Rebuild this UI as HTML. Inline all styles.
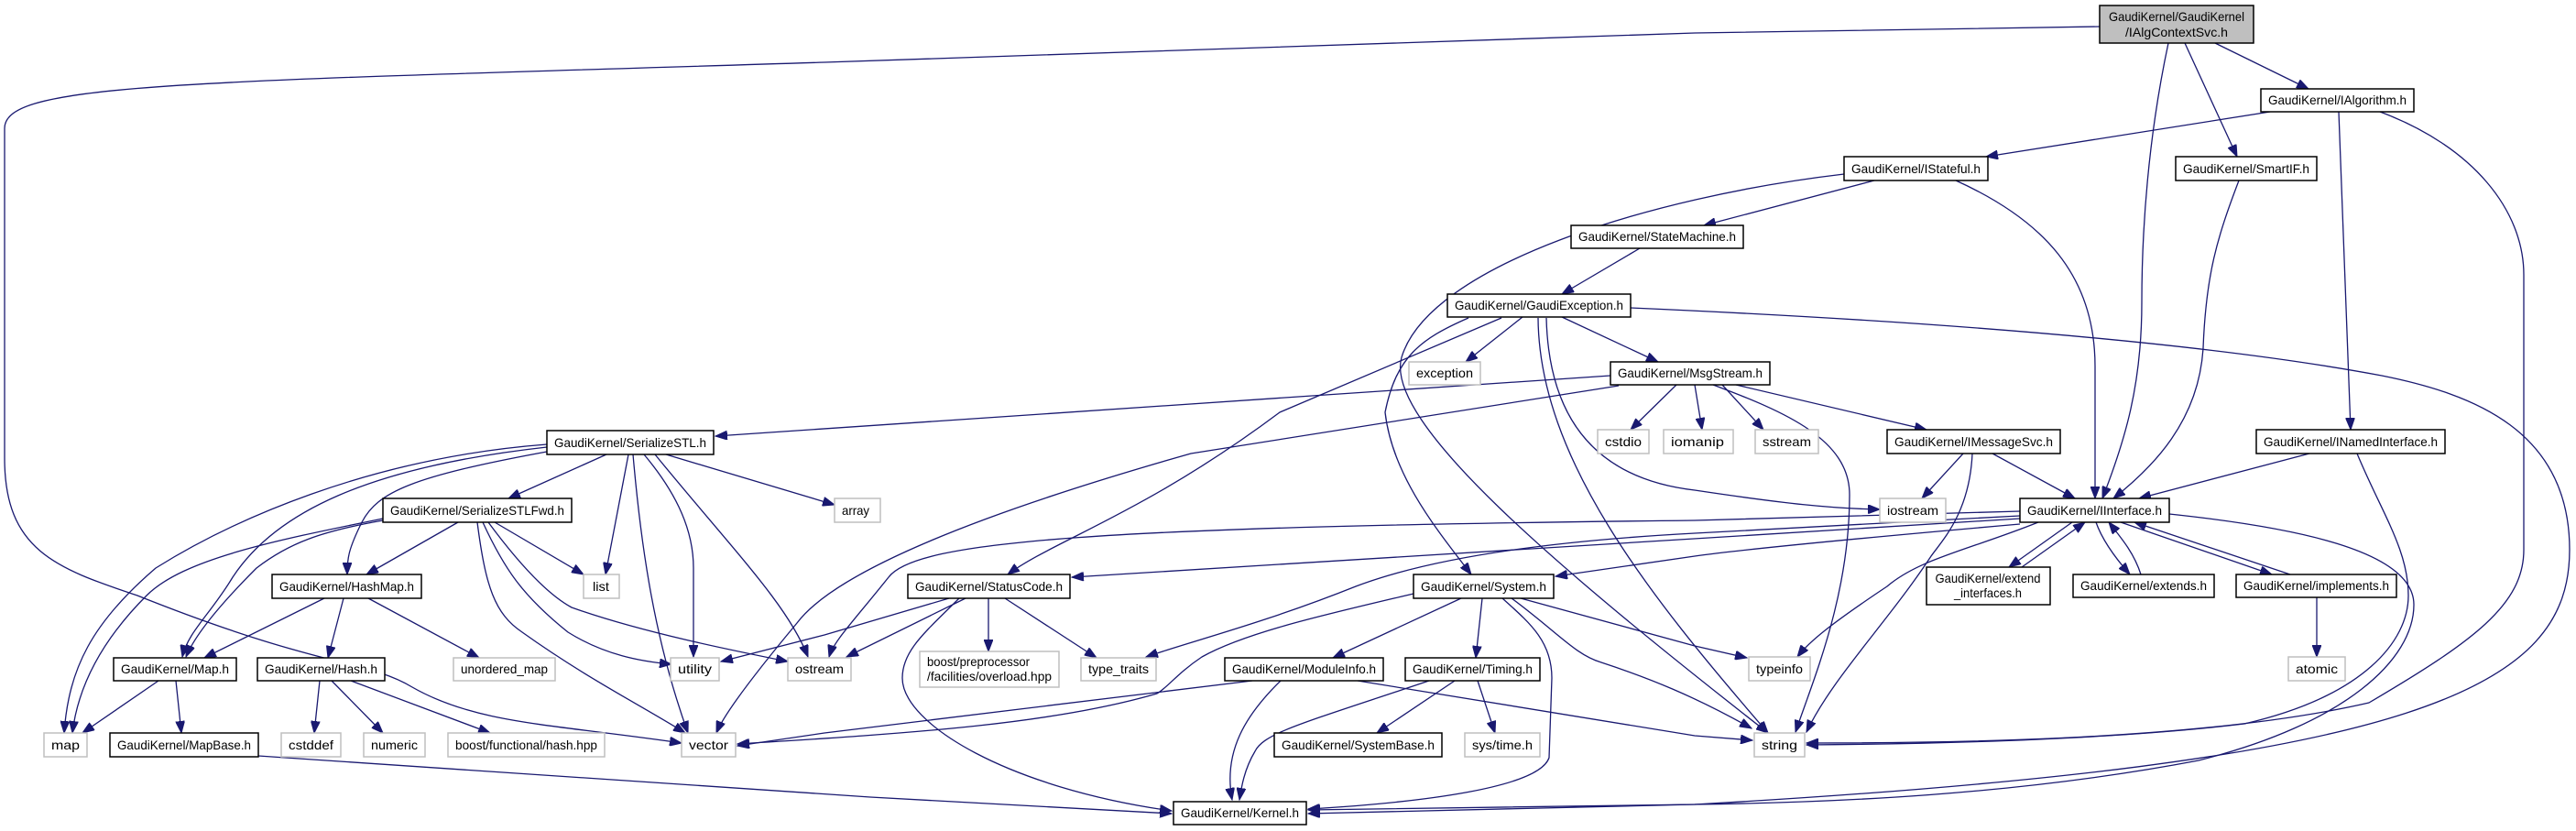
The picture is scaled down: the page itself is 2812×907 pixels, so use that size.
<!DOCTYPE html>
<html><head><meta charset="utf-8"><style>
html,body{margin:0;padding:0;background:#fff;}
svg{display:block;}
text{font-family:"Liberation Sans",sans-serif;font-size:14px;fill:#000;}
.n{fill:#fff;stroke:#000;stroke-width:1.5;}
.g{fill:#fff;stroke:#bfbfbf;stroke-width:1.5;}
.e{fill:none;stroke:#191970;stroke-width:1.3;marker-end:url(#a);}
</style></head><body>
<svg width="2812" height="907" viewBox="0 0 2812 907" xmlns="http://www.w3.org/2000/svg">
<defs><marker id="a" markerUnits="userSpaceOnUse" markerWidth="14" markerHeight="10" refX="13" refY="5" orient="auto"><path d="M0,0 L13,5 L0,10 z" fill="#191970" stroke="#191970"/></marker></defs>
<g>
<path class="e" d="M2292,29 L1850,36 L900,68 C200,90 5,90 5,140 L5,500 C5,600 60,620 150,650 C350,730 400,720 450,750 C520,790 600,790 744,811"/>
<path class="e" d="M2367,47 C2345,150 2338,250 2338,330 C2338,420 2320,480 2295,544"/>
<path class="e" d="M2385,47 L2442,171"/>
<path class="e" d="M2418,47 L2520,97"/>
<path class="e" d="M2478,122 L2168,171"/>
<path class="e" d="M2553,122 L2566,469"/>
<path class="e" d="M2598,122 C2700,160 2755,230 2755,300 L2755,600 C2755,660 2700,700 2586,767 C2400,810 2100,811 1972,811"/>
<path class="e" d="M2046,197 L1860,246"/>
<path class="e" d="M2135,197 C2230,240 2287,300 2287,400 L2287,544"/>
<path class="e" d="M2013,190 C1800,215 1560,290 1530,390 C1510,460 1700,620 1930,800"/>
<path class="e" d="M2444,197 C2420,260 2408,300 2405,380 C2400,460 2350,510 2307,544"/>
<path class="e" d="M1790,271 L1705,321"/>
<path class="e" d="M1662,346 L1600,395"/>
<path class="e" d="M1705,346 L1810,395"/>
<path class="e" d="M1780,336 C2100,350 2402,373 2600,410 C2700,430 2805,470 2805,600 C2805,750 2647,833 1850,878 L1428,888"/>
<path class="e" d="M1639,347 L1397,450 C1250,560 1150,590 1100,627"/>
<path class="e" d="M1603,347 C1550,370 1524,390 1512,450 C1520,520 1570,580 1606,627"/>
<path class="e" d="M1679,347 C1680,500 1800,650 1930,800"/>
<path class="e" d="M1688,347 C1690,430 1720,520 1850,535 C1950,550 2000,555 2052,556"/>
<path class="e" d="M1758,410 L781,476"/>
<path class="e" d="M1767,421 L1300,495 C1000,580 900,640 870,680 C820,740 790,780 782,800"/>
<path class="e" d="M1830,420 L1780,469"/>
<path class="e" d="M1850,420 L1858,469"/>
<path class="e" d="M1880,420 L1925,469"/>
<path class="e" d="M1895,420 L2103,469"/>
<path class="e" d="M1870,420 C1950,450 2019,480 2019,540 C2019,650 1980,740 1960,799"/>
<path class="e" d="M2143,495 L2098,544"/>
<path class="e" d="M2175,495 L2265,544"/>
<path class="e" d="M2153,495 C2150,560 2120,590 2108,607 C2060,680 2000,740 1972,799"/>
<path class="e" d="M2521,495 L2335,544"/>
<path class="e" d="M2573,495 C2600,560 2629,600 2629,650 C2629,700 2580,760 2450,790 C2300,808 2100,812 1972,813"/>
<path class="e" d="M2262,570 L2193,619"/>
<path class="e" d="M2207,619 L2276,570"/>
<path class="e" d="M2288,570 C2295,590 2310,610 2325,627"/>
<path class="e" d="M2337,627 C2330,605 2318,590 2302,570"/>
<path class="e" d="M2315,570 L2480,627"/>
<path class="e" d="M2500,627 L2330,570"/>
<path class="e" d="M2529,652 L2529,717"/>
<path class="e" d="M2225,570 C2150,600 2095,610 2060,640 C2000,680 1975,700 1962,717"/>
<path class="e" d="M2368,561 C2500,575 2635,600 2635,660 C2635,720 2560,790 2400,830 C2200,868 2000,876 1850,878 L1428,884"/>
<path class="e" d="M2205,566 L1170,630"/>
<path class="e" d="M2205,572 C2000,590 1900,600 1850,607 L1698,629"/>
<path class="e" d="M2205,558 L1850,568 C1200,575 1000,590 970,630 C930,680 910,700 905,717"/>
<path class="e" d="M2205,563 L1850,582 C1700,590 1567,607 1480,640 C1380,680 1300,700 1251,717"/>
<path class="e" d="M1543,648 C1450,670 1360,690 1312,717 C1285,735 1275,750 1263,757 C1150,790 1000,800 805,812"/>
<path class="e" d="M1595,653 L1455,718"/>
<path class="e" d="M1618,653 L1611,718"/>
<path class="e" d="M1640,653 C1670,680 1694,700 1694,740 L1691,827 C1680,860 1550,876 1428,883"/>
<path class="e" d="M1660,653 L1850,705 L1907,718"/>
<path class="e" d="M1650,653 C1700,690 1720,715 1748,723 C1800,740 1850,760 1912,795"/>
<path class="e" d="M1482,743 L1850,803 L1913,808"/>
<path class="e" d="M1367,743 L900,800 L805,814"/>
<path class="e" d="M1398,743 C1360,780 1335,820 1345,873"/>
<path class="e" d="M1560,743 C1420,790 1380,800 1370,820 C1358,840 1355,860 1353,873"/>
<path class="e" d="M1588,743 L1503,800"/>
<path class="e" d="M1613,743 L1632,800"/>
<path class="e" d="M1036,653 L900,693 L787,722"/>
<path class="e" d="M1054,653 L924,717"/>
<path class="e" d="M1097,653 L1197,718"/>
<path class="e" d="M1079,653 L1079,711"/>
<path class="e" d="M1047,653 C1010,690 985,710 985,740 C985,790 1100,860 1279,885"/>
<path class="e" d="M282,825 L950,870 L1279,888"/>
<path class="e" d="M662,496 L555,544"/>
<path class="e" d="M727,496 L911,551"/>
<path class="e" d="M686,496 L661,627"/>
<path class="e" d="M703,496 C740,540 757,580 757,620 L757,717"/>
<path class="e" d="M691,496 C700,600 715,700 751,800"/>
<path class="e" d="M715,496 C800,600 860,660 882,717"/>
<path class="e" d="M597,493 C450,520 412,537 395,570 C380,600 379,610 379,627"/>
<path class="e" d="M597,488 C400,510 300,560 254,630 C230,670 205,690 199,717"/>
<path class="e" d="M597,485 C400,500 250,570 170,620 C100,680 75,730 70,800"/>
<path class="e" d="M500,570 L400,627"/>
<path class="e" d="M418,568 C350,580 315,593 280,620 C230,670 210,700 203,717"/>
<path class="e" d="M418,566 C300,590 200,610 160,650 C110,700 85,750 79,800"/>
<path class="e" d="M540,570 L637,627"/>
<path class="e" d="M527,570 C550,620 570,650 620,690 C660,715 700,722 733,725"/>
<path class="e" d="M521,570 C530,640 540,670 570,690 C640,740 700,770 748,800"/>
<path class="e" d="M533,570 C570,620 600,650 624,663 C700,690 800,710 860,722"/>
<path class="e" d="M354,653 L223,718"/>
<path class="e" d="M375,653 L358,718"/>
<path class="e" d="M402,653 L523,718"/>
<path class="e" d="M173,743 L90,800"/>
<path class="e" d="M192,743 L198,800"/>
<path class="e" d="M349,743 L343,800"/>
<path class="e" d="M362,743 L418,800"/>
<path class="e" d="M383,743 L535,800"/>
</g>
<g>
<rect x="2292" y="6" width="168" height="41" fill="#bfbfbf" stroke="#000" stroke-width="1.5"/>
<text x="2376" y="23" text-anchor="middle" textLength="148" lengthAdjust="spacingAndGlyphs">GaudiKernel/GaudiKernel</text>
<text x="2376" y="40" text-anchor="middle" textLength="112" lengthAdjust="spacingAndGlyphs">/IAlgContextSvc.h</text>

<rect class="n" x="2468" y="97" width="167" height="25"/><text x="2476" y="114" textLength="151" lengthAdjust="spacingAndGlyphs">GaudiKernel/IAlgorithm.h</text>
<rect class="n" x="2013" y="171" width="157" height="26"/><text x="2021" y="189" textLength="141" lengthAdjust="spacingAndGlyphs">GaudiKernel/IStateful.h</text>
<rect class="n" x="2375" y="171" width="154" height="26"/><text x="2383" y="189" textLength="138" lengthAdjust="spacingAndGlyphs">GaudiKernel/SmartIF.h</text>
<rect class="n" x="1715" y="246" width="188" height="25"/><text x="1723" y="263" textLength="172" lengthAdjust="spacingAndGlyphs">GaudiKernel/StateMachine.h</text>
<rect class="n" x="1580" y="321" width="200" height="25"/><text x="1588" y="338" textLength="184" lengthAdjust="spacingAndGlyphs">GaudiKernel/GaudiException.h</text>
<rect class="g" x="1538" y="395" width="78" height="25"/><text x="1546" y="412" textLength="62" lengthAdjust="spacingAndGlyphs">exception</text>
<rect class="n" x="1758" y="395" width="174" height="25"/><text x="1766" y="412" textLength="158" lengthAdjust="spacingAndGlyphs">GaudiKernel/MsgStream.h</text>
<rect class="n" x="597" y="470" width="182" height="26"/><text x="605" y="488" textLength="166" lengthAdjust="spacingAndGlyphs">GaudiKernel/SerializeSTL.h</text>
<rect class="g" x="1744" y="469" width="56" height="26"/><text x="1752" y="487" textLength="40" lengthAdjust="spacingAndGlyphs">cstdio</text>
<rect class="g" x="1816" y="469" width="76" height="26"/><text x="1824" y="487" textLength="58" lengthAdjust="spacingAndGlyphs">iomanip</text>
<rect class="g" x="1916" y="469" width="69" height="26"/><text x="1924" y="487" textLength="53" lengthAdjust="spacingAndGlyphs">sstream</text>
<rect class="n" x="2060" y="469" width="189" height="26"/><text x="2068" y="487" textLength="173" lengthAdjust="spacingAndGlyphs">GaudiKernel/IMessageSvc.h</text>
<rect class="n" x="2463" y="469" width="206" height="26"/><text x="2471" y="487" textLength="190" lengthAdjust="spacingAndGlyphs">GaudiKernel/INamedInterface.h</text>
<rect class="g" x="911" y="544" width="50" height="26"/><text x="919" y="562" textLength="30" lengthAdjust="spacingAndGlyphs">array</text>
<rect class="n" x="418" y="544" width="206" height="26"/><text x="426" y="562" textLength="190" lengthAdjust="spacingAndGlyphs">GaudiKernel/SerializeSTLFwd.h</text>
<rect class="g" x="2052" y="544" width="72" height="26"/><text x="2060" y="562" textLength="56" lengthAdjust="spacingAndGlyphs">iostream</text>
<rect class="n" x="2205" y="544" width="163" height="26"/><text x="2213" y="562" textLength="147" lengthAdjust="spacingAndGlyphs">GaudiKernel/IInterface.h</text>
<rect class="n" x="297" y="627" width="163" height="26"/><text x="305" y="645" textLength="147" lengthAdjust="spacingAndGlyphs">GaudiKernel/HashMap.h</text>
<rect class="g" x="637" y="627" width="39" height="26"/><text x="647" y="645" textLength="18" lengthAdjust="spacingAndGlyphs">list</text>
<rect class="n" x="991" y="627" width="177" height="26"/><text x="999" y="645" textLength="161" lengthAdjust="spacingAndGlyphs">GaudiKernel/StatusCode.h</text>
<rect class="n" x="1543" y="627" width="153" height="26"/><text x="1551" y="645" textLength="137" lengthAdjust="spacingAndGlyphs">GaudiKernel/System.h</text>
<rect class="n" x="2103" y="619" width="135" height="41"/>
<text x="2170" y="636" text-anchor="middle" textLength="115" lengthAdjust="spacingAndGlyphs">GaudiKernel/extend</text>
<text x="2170" y="652" text-anchor="middle" textLength="74" lengthAdjust="spacingAndGlyphs">_interfaces.h</text>
<rect class="n" x="2263" y="627" width="154" height="25"/><text x="2271" y="644" textLength="138" lengthAdjust="spacingAndGlyphs">GaudiKernel/extends.h</text>
<rect class="n" x="2441" y="627" width="175" height="25"/><text x="2449" y="644" textLength="159" lengthAdjust="spacingAndGlyphs">GaudiKernel/implements.h</text>
<rect class="n" x="124" y="718" width="134" height="25"/><text x="132" y="735" textLength="118" lengthAdjust="spacingAndGlyphs">GaudiKernel/Map.h</text>
<rect class="n" x="281" y="718" width="139" height="25"/><text x="289" y="735" textLength="123" lengthAdjust="spacingAndGlyphs">GaudiKernel/Hash.h</text>
<rect class="g" x="495" y="718" width="111" height="25"/><text x="503" y="735" textLength="95" lengthAdjust="spacingAndGlyphs">unordered_map</text>
<rect class="g" x="732" y="718" width="53" height="25"/><text x="740" y="735" textLength="37" lengthAdjust="spacingAndGlyphs">utility</text>
<rect class="g" x="860" y="718" width="69" height="25"/><text x="868" y="735" textLength="53" lengthAdjust="spacingAndGlyphs">ostream</text>
<rect class="g" x="1004" y="711" width="152" height="39"/>
<text x="1012" y="727" textLength="112" lengthAdjust="spacingAndGlyphs">boost/preprocessor</text>
<text x="1012" y="743" textLength="136" lengthAdjust="spacingAndGlyphs">/facilities/overload.hpp</text>
<rect class="g" x="1180" y="718" width="82" height="25"/><text x="1188" y="735" textLength="66" lengthAdjust="spacingAndGlyphs">type_traits</text>
<rect class="n" x="1337" y="718" width="173" height="25"/><text x="1345" y="735" textLength="157" lengthAdjust="spacingAndGlyphs">GaudiKernel/ModuleInfo.h</text>
<rect class="n" x="1534" y="718" width="147" height="25"/><text x="1542" y="735" textLength="131" lengthAdjust="spacingAndGlyphs">GaudiKernel/Timing.h</text>
<rect class="g" x="1909" y="717" width="67" height="26"/><text x="1917" y="735" textLength="51" lengthAdjust="spacingAndGlyphs">typeinfo</text>
<rect class="g" x="2498" y="717" width="62" height="26"/><text x="2506" y="735" textLength="46" lengthAdjust="spacingAndGlyphs">atomic</text>
<rect class="g" x="48" y="800" width="47" height="26"/><text x="56" y="818" textLength="31" lengthAdjust="spacingAndGlyphs">map</text>
<rect class="n" x="120" y="800" width="162" height="26"/><text x="128" y="818" textLength="146" lengthAdjust="spacingAndGlyphs">GaudiKernel/MapBase.h</text>
<rect class="g" x="307" y="800" width="65" height="26"/><text x="315" y="818" textLength="49" lengthAdjust="spacingAndGlyphs">cstddef</text>
<rect class="g" x="397" y="800" width="67" height="26"/><text x="405" y="818" textLength="51" lengthAdjust="spacingAndGlyphs">numeric</text>
<rect class="g" x="489" y="800" width="171" height="26"/><text x="497" y="818" textLength="155" lengthAdjust="spacingAndGlyphs">boost/functional/hash.hpp</text>
<rect class="g" x="744" y="800" width="59" height="26"/><text x="752" y="818" textLength="43" lengthAdjust="spacingAndGlyphs">vector</text>
<rect class="n" x="1391" y="800" width="183" height="26"/><text x="1399" y="818" textLength="167" lengthAdjust="spacingAndGlyphs">GaudiKernel/SystemBase.h</text>
<rect class="g" x="1599" y="800" width="82" height="26"/><text x="1607" y="818" textLength="66" lengthAdjust="spacingAndGlyphs">sys/time.h</text>
<rect class="g" x="1915" y="800" width="55" height="26"/><text x="1923" y="818" textLength="39" lengthAdjust="spacingAndGlyphs">string</text>
<rect class="n" x="1281" y="875" width="145" height="25"/><text x="1289" y="892" textLength="129" lengthAdjust="spacingAndGlyphs">GaudiKernel/Kernel.h</text>
</g>
</svg>
</body></html>
